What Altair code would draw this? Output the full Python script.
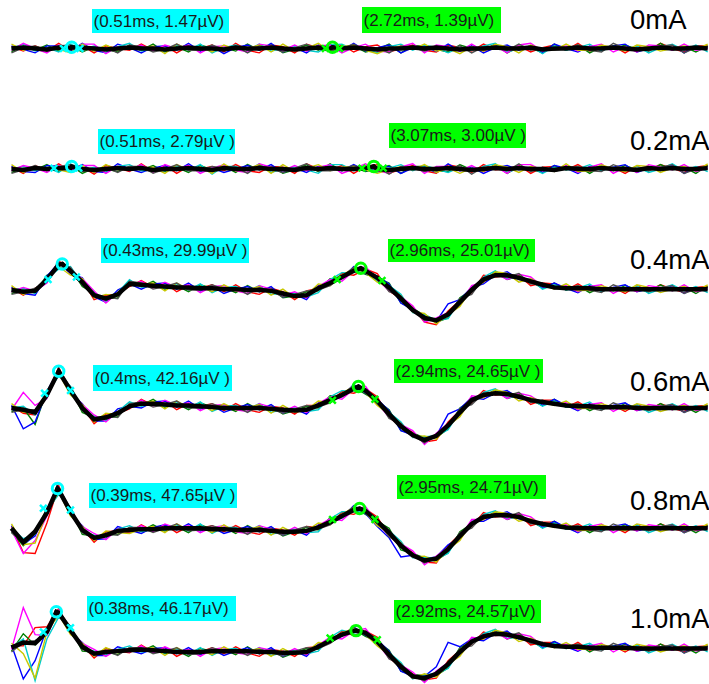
import altair as alt
import pandas as pd

# ---------------- data ----------------
ROWS = ["0mA", "0.2mA", "0.4mA", "0.6mA", "0.8mA", "1.0mA"]
T = [round(i * 0.1, 1) for i in range(60)]  # sample times, ms

mean_0mA = [0, 1, 0, -1, 1, 0, 1, 0, -1, 0,
            1, 0, 0, -1, 0, 1, 0, 0, -1, 1,
            0, 0, 1, 0, -1, 0, 1, 0, 0, 1,
            0, -1, 0, 0, 1, 0, 1, 0, -1, 0,
            0, 1, 0, 0, 1, -1, 0, 0, 1, 0,
            0, 1, 0, -1, 0, 1, 0, 0, 1, 0]
mean_02mA = [0, -1, 1, 0, 1, 1, 0, -1, 0, 1,
             0, 1, -1, 0, 0, 1, 0, -1, 1, 0,
             0, 1, 0, 0, -1, 1, 0, 1, 0, 0,
             1, 0, -1, 0, 1, 0, 0, 1, 0, -1,
             0, 1, 0, 1, 0, 0, -1, 1, 0, 0,
             1, 0, 0, -1, 1, 0, 1, 0, 0, 1]
mean_04mA = [0, -2, -1, 12, 29, 22, 9, -6, -10, -5,
             7, 6, 5, 4, 3, 3, 2, 2, 1, 1,
             0, 0, -1, -4, -7, -6, 2, 8, 15, 22,
             22, 14, 3, -10, -23, -32, -35, -28, -14, 0,
             12, 17, 17, 14, 10, 6, 3, 2, 2, 2,
             1, 1, 1, 1, 1, 1, 1, 1, 1, 1]
mean_06mA = [0, -2, -5, 15, 42, 20, 0, -13, -11, -6,
             2, 5, 5, 4, 3, 3, 2, 1, 0, 0,
             0, 0, -1, -2, -3, -2, 3, 9, 15, 22,
             20, 8, -7, -21, -31, -37, -32, -20, -5, 9,
             15, 17, 16, 13, 9, 7, 5, 3, 2, 2,
             1, 1, 1, 0, 0, 0, 0, 0, 0, 0]
mean_08mA = [2, -14, -2, 20, 46, 21, 0, -9, -6, -1,
             0, 1, 1, 2, 2, 2, 2, 1, 1, 0,
             0, 0, -1, -2, -2, -1, 3, 9, 16, 23,
             22, 10, -3, -18, -29, -35, -33, -22, -7, 7,
             15, 17, 17, 15, 10, 7, 5, 3, 2, 2,
             2, 2, 2, 2, 2, 2, 2, 2, 2, 2]
mean_10mA = [5, 11, 10, 23, 45, 25, 6, -2, 0, 1,
             2, 3, 2, 1, 0, 0, 0, 1, 1, 1,
             1, 0, 0, -1, -1, 0, 6, 13, 20, 24,
             22, 12, -3, -17, -28, -30, -25, -14, 0, 12,
             18, 21, 20, 17, 13, 9, 7, 6, 6, 5,
             5, 5, 5, 4, 4, 4, 4, 4, 4, 4]
MEANS = [mean_0mA, mean_02mA, mean_04mA, mean_06mA, mean_08mA, mean_10mA]

# single-sweep deviations from the mean (µV)
dev_red = [2, -4, 3, -2, 5, -3, 2, -5, 4, 0,
           -3, 5, -2, 4, -5, 2, 0, 4, -3, 5,
           -2, -5, 3, 2, -4, 5, 0, -2, 4, -5,
           2, 5, -4, 0, 3, -2, -5, 4, 2, -3,
           5, -2, 0, 3, -5, 2, 4, -2, 5, -3,
           0, 2, -5, 4, -2, 5, 0, -4, 2, 3]
dev_green = [-4, 2, -2, 5, -4, 3, -5, 2, 0, -4,
             3, -2, 5, -3, 2, -5, 4, 0, 2, -4,
             5, -2, 3, -5, 0, 4, -3, 5, -2, 2,
             -4, 0, 5, -5, 2, 3, -2, -4, 5, 0,
             -2, 4, -5, 2, 0, -4, 5, -2, 3, -5,
             2, -2, 4, 0, -3, 5, -2, 2, -5, 3]
dev_blue = [3, -2, -5, 4, 2, -3, 5, -2, -4, 5,
            0, -5, 2, 4, -2, 5, -3, 2, -5, 0,
            4, -2, 5, -4, 2, -5, 3, 0, -2, 5,
            -3, 2, 4, -5, 0, 2, -4, 5, -2, 3,
            -5, 0, 4, -2, 2, -4, 5, 0, -5, 3,
            -2, 2, 5, -3, 0, -2, 4, -5, 2, 0]
dev_cyan = [0, 4, -3, 2, -5, 5, -2, 3, -4, 2,
            5, -3, 0, -2, 4, -3, 5, -5, 2, 3,
            -2, 5, -4, 0, 3, -2, -5, 4, 5, -2,
            0, -4, 2, 5, -3, 4, 0, -5, 2, -2,
            3, 5, -4, 0, 2, -5, 3, -2, 0, 5,
            -3, 2, -2, 4, -5, 0, 5, -2, 3, -4]
dev_magenta = [-2, 5, 0, -4, 3, -2, 4, 5, -5, 2,
               -2, 4, -3, 5, 0, 3, -5, 2, 4, -2,
               -4, 5, 2, -2, 5, -3, 2, 4, -5, 0,
               5, -2, -4, 2, 5, -5, 3, 2, -2, 5,
               -3, 2, -5, 4, 5, -2, 0, 3, -4, 2,
               5, -5, 2, -3, 4, 2, -2, 5, -3, 0]
dev_yellow = [5, -3, 2, 0, -2, -5, 4, -3, 5, -2,
              2, 0, 3, -5, 5, -2, 2, -4, 5, -2,
              0, 4, -5, 5, -2, 0, 5, -3, 2, 3,
              -2, -5, 0, 3, -2, 5, -4, 0, -5, 2,
              -3, 4, 2, -5, 3, 0, -2, 5, -3, -2,
              4, 0, -3, 5, 2, -4, 0, 3, -2, 5]
dev_gray = [-5, 0, 3, -2, 2, 4, -3, 0, 2, -5,
            3, 2, -4, 0, 5, -3, -2, 4, 0, 2,
            -5, 3, 0, -4, 2, 5, -2, -3, 0, 4,
            -2, 2, -5, 3, 0, -3, 2, -2, 4, -5,
            2, 0, -2, 5, -3, 2, -2, 0, 3, -2,
            -4, 5, 0, 2, -3, 2, 4, -5, 0, 2]
SWEEPS = {"red": dev_red, "green": dev_green, "blue": dev_blue, "cyan": dev_cyan,
          "magenta": dev_magenta, "yellow": dev_yellow, "gray": dev_gray}

# larger excursions of single sweeps (row -> sweep -> sample index -> µV)
OUTLIERS = {
    "0.4mA": {"blue": {36: 3, 37: 7, 38: 5}, "red": {35: -3}},
    "0.6mA": {"blue": {1: -20, 2: -6, 36: 4, 37: 8, 38: 6}, "magenta": {1: 15, 2: 8},
              "green": {2: -12}, "red": {2: -6}},
    "0.8mA": {"magenta": {1: -18, 2: -10}, "red": {1: -8, 2: -28, 3: -10},
              "yellow": {2: -15, 10: -6}, "green": {1: -6},
              "blue": {31: -8, 32: -10, 33: -8, 36: 6}},
    "1.0mA": {"blue": {1: -40, 2: -15, 36: 12, 37: 20, 38: 8}, "yellow": {1: -10, 2: -42},
              "cyan": {2: -40, 3: -10}, "magenta": {1: 35, 2: 10}, "red": {2: 15, 3: 8},
              "green": {1: 8}},
}

# peak annotations
cyan_t = [0.51, 0.51, 0.43, 0.4, 0.39, 0.38]
cyan_v = [1.47, 2.79, 29.99, 42.16, 47.65, 46.17]
green_t = [2.72, 3.07, 2.96, 2.94, 2.95, 2.92]
green_v = [1.39, 3.00, 25.01, 24.65, 24.71, 24.57]
cyan_text = ["(0.51ms, 1.47µV)", "(0.51ms, 2.79µV )", "(0.43ms, 29.99µV )",
             "(0.4ms, 42.16µV )", "(0.39ms, 47.65µV )", "(0.38ms, 46.17µV)"]
green_text = ["(2.72ms, 1.39µV)", "(3.07ms, 3.00µV )", "(2.96ms, 25.01µV)",
              "(2.94ms, 24.65µV )", "(2.95ms, 24.71µV)", "(2.92ms, 24.57µV)"]
# cursor crosses (t ms, µV)
cyan_cross_t = [[0.44, 0.58], [0.36, 0.57], [0.31, 0.55], [0.28, 0.50], [0.27, 0.50], [0.27, 0.50]]
cyan_cross_v = [[0, 0], [1, 1], [12, 15], [17, 20], [25, 23], [23, 28]]
green_cross_t = [[2.66, 2.78], [2.97, 3.15], [2.76, 3.14], [2.72, 3.08], [2.72, 3.08], [2.70, 3.10]]
green_cross_v = [[0, 0], [1, 1], [12, 11], [9, 10], [12, 12], [16, 14]]

# ---------------- layout / style ----------------
W, H = 709, 684
PX_PER_MS = 118.0
T0_PX = 11.5
PX_PER_UV = 0.87
BASE_PX = [48.5, 169, 290, 408, 530, 652]
CYAN_BOX = [(92, 229, 9, 33), (98, 235, 129, 154), (101, 249, 238, 263),
            (93, 232, 365, 391), (89, 237, 483, 508), (87, 236, 596, 621)]
GREEN_BOX = [(362, 501, 7, 33), (389, 526, 123, 148), (388, 535, 239, 262),
             (394, 543, 359, 383), (397, 546, 475, 499), (394, 541, 600, 623)]
ROW_LABEL_Y = [21, 142, 261, 383, 502, 620]
SWEEP_COLORS = {"red": "#FF0000", "green": "#008000", "blue": "#0000FF", "cyan": "#00CCCC",
                "magenta": "#FF00FF", "yellow": "#C8C800", "gray": "#505050"}
FONT = "Liberation Sans"


def offset(i):
    return (H - BASE_PX[i]) / PX_PER_UV


# ---------------- build tables ----------------
sweep_recs, mean_recs = [], []
for i, row in enumerate(ROWS):
    off = offset(i)
    out = OUTLIERS.get(row, {})
    for name, dev in SWEEPS.items():
        extra = out.get(name, {})
        for k, t in enumerate(T):
            sweep_recs.append({"t": t, "y": MEANS[i][k] + dev[k] + extra.get(k, 0) + off,
                               "series": f"{row}-{name}", "color": SWEEP_COLORS[name]})
    pts = {t: MEANS[i][k] for k, t in enumerate(T)}
    pts[cyan_t[i]] = cyan_v[i]
    pts[green_t[i]] = green_v[i]
    for t in sorted(pts):
        mean_recs.append({"t": t, "y": pts[t] + off, "series": row})

sweeps = pd.DataFrame(sweep_recs)
means = pd.DataFrame(mean_recs)

peaks = pd.DataFrame(
    [{"t": cyan_t[i], "y": cyan_v[i] + offset(i), "c": "#00FFFF"} for i in range(6)] +
    [{"t": green_t[i], "y": green_v[i] + offset(i), "c": "#00FF00"} for i in range(6)])
crosses = pd.DataFrame(
    [{"t": cyan_cross_t[i][j], "y": cyan_cross_v[i][j] + offset(i), "c": "#00FFFF"}
     for i in range(6) for j in range(2)] +
    [{"t": green_cross_t[i][j], "y": green_cross_v[i][j] + offset(i), "c": "#00FF00"}
     for i in range(6) for j in range(2)])
boxes = pd.DataFrame(
    [{"x1": b[0], "x2": b[1], "y1": b[2], "y2": b[3], "c": "#00FFFF", "txt": cyan_text[i]}
     for i, b in enumerate(CYAN_BOX)] +
    [{"x1": b[0], "x2": b[1], "y1": b[2], "y2": b[3], "c": "#00FF00", "txt": green_text[i]}
     for i, b in enumerate(GREEN_BOX)])
boxes["tx"] = boxes["x1"] + 1.5
boxes["ty"] = (boxes["y1"] + boxes["y2"]) / 2 + 0.5
row_labels = pd.DataFrame({"txt": ROWS, "x": [630] * 6, "y": ROW_LABEL_Y})

xs = alt.Scale(domain=[-T0_PX / PX_PER_MS, (W - T0_PX) / PX_PER_MS], nice=False, zero=False)
ys = alt.Scale(domain=[0, H / PX_PER_UV], nice=False, zero=False)
X = alt.X("t:Q", scale=xs, axis=None)
Y = alt.Y("y:Q", scale=ys, axis=None)

sweep_layer = alt.Chart(sweeps).mark_line(strokeWidth=1.4, interpolate="linear").encode(
    x=X, y=Y, detail="series:N", color=alt.Color("color:N", scale=None), order="t:Q")
mean_layer = alt.Chart(means).mark_line(strokeWidth=4.5, color="black", interpolate="linear").encode(
    x=X, y=Y, detail="series:N", order="t:Q")
cross_layer = alt.Chart(crosses).mark_point(
    shape="M-1,-1L1,1M-1,1L1,-1", filled=False, strokeWidth=2.5, size=45, opacity=1).encode(
    x=X, y=Y, stroke=alt.Stroke("c:N", scale=None))
ring_layer = alt.Chart(peaks).mark_point(
    shape="circle", filled=False, strokeWidth=3, size=110, opacity=1).encode(
    x=X, y=Y, stroke=alt.Stroke("c:N", scale=None))
dot_layer = alt.Chart(peaks).mark_point(
    shape="circle", filled=True, color="black", size=18, opacity=1).encode(x=X, y=Y)
box_layer = alt.Chart(boxes).mark_rect().encode(
    x=alt.X("x1:Q", scale=None), x2="x2:Q", y=alt.Y("y1:Q", scale=None), y2="y2:Q",
    color=alt.Color("c:N", scale=None))
box_text = alt.Chart(boxes).mark_text(
    align="left", baseline="middle", font=FONT, fontSize=17, color="#1a1a1a").encode(
    x=alt.X("tx:Q", scale=None), y=alt.Y("ty:Q", scale=None), text="txt:N")
row_text = alt.Chart(row_labels).mark_text(
    align="left", baseline="middle", font=FONT, fontSize=27.5, color="#000000").encode(
    x=alt.X("x:Q", scale=None), y=alt.Y("y:Q", scale=None), text="txt:N")

chart = alt.layer(
    sweep_layer, mean_layer, cross_layer, ring_layer, dot_layer, box_layer, box_text, row_text
).properties(
    width=W, height=H, padding=0, autosize=alt.AutoSizeParams(type="none"), background="white"
).configure_view(stroke=None)

chart.save("out.html", embed_options={"renderer": "svg", "actions": False})
